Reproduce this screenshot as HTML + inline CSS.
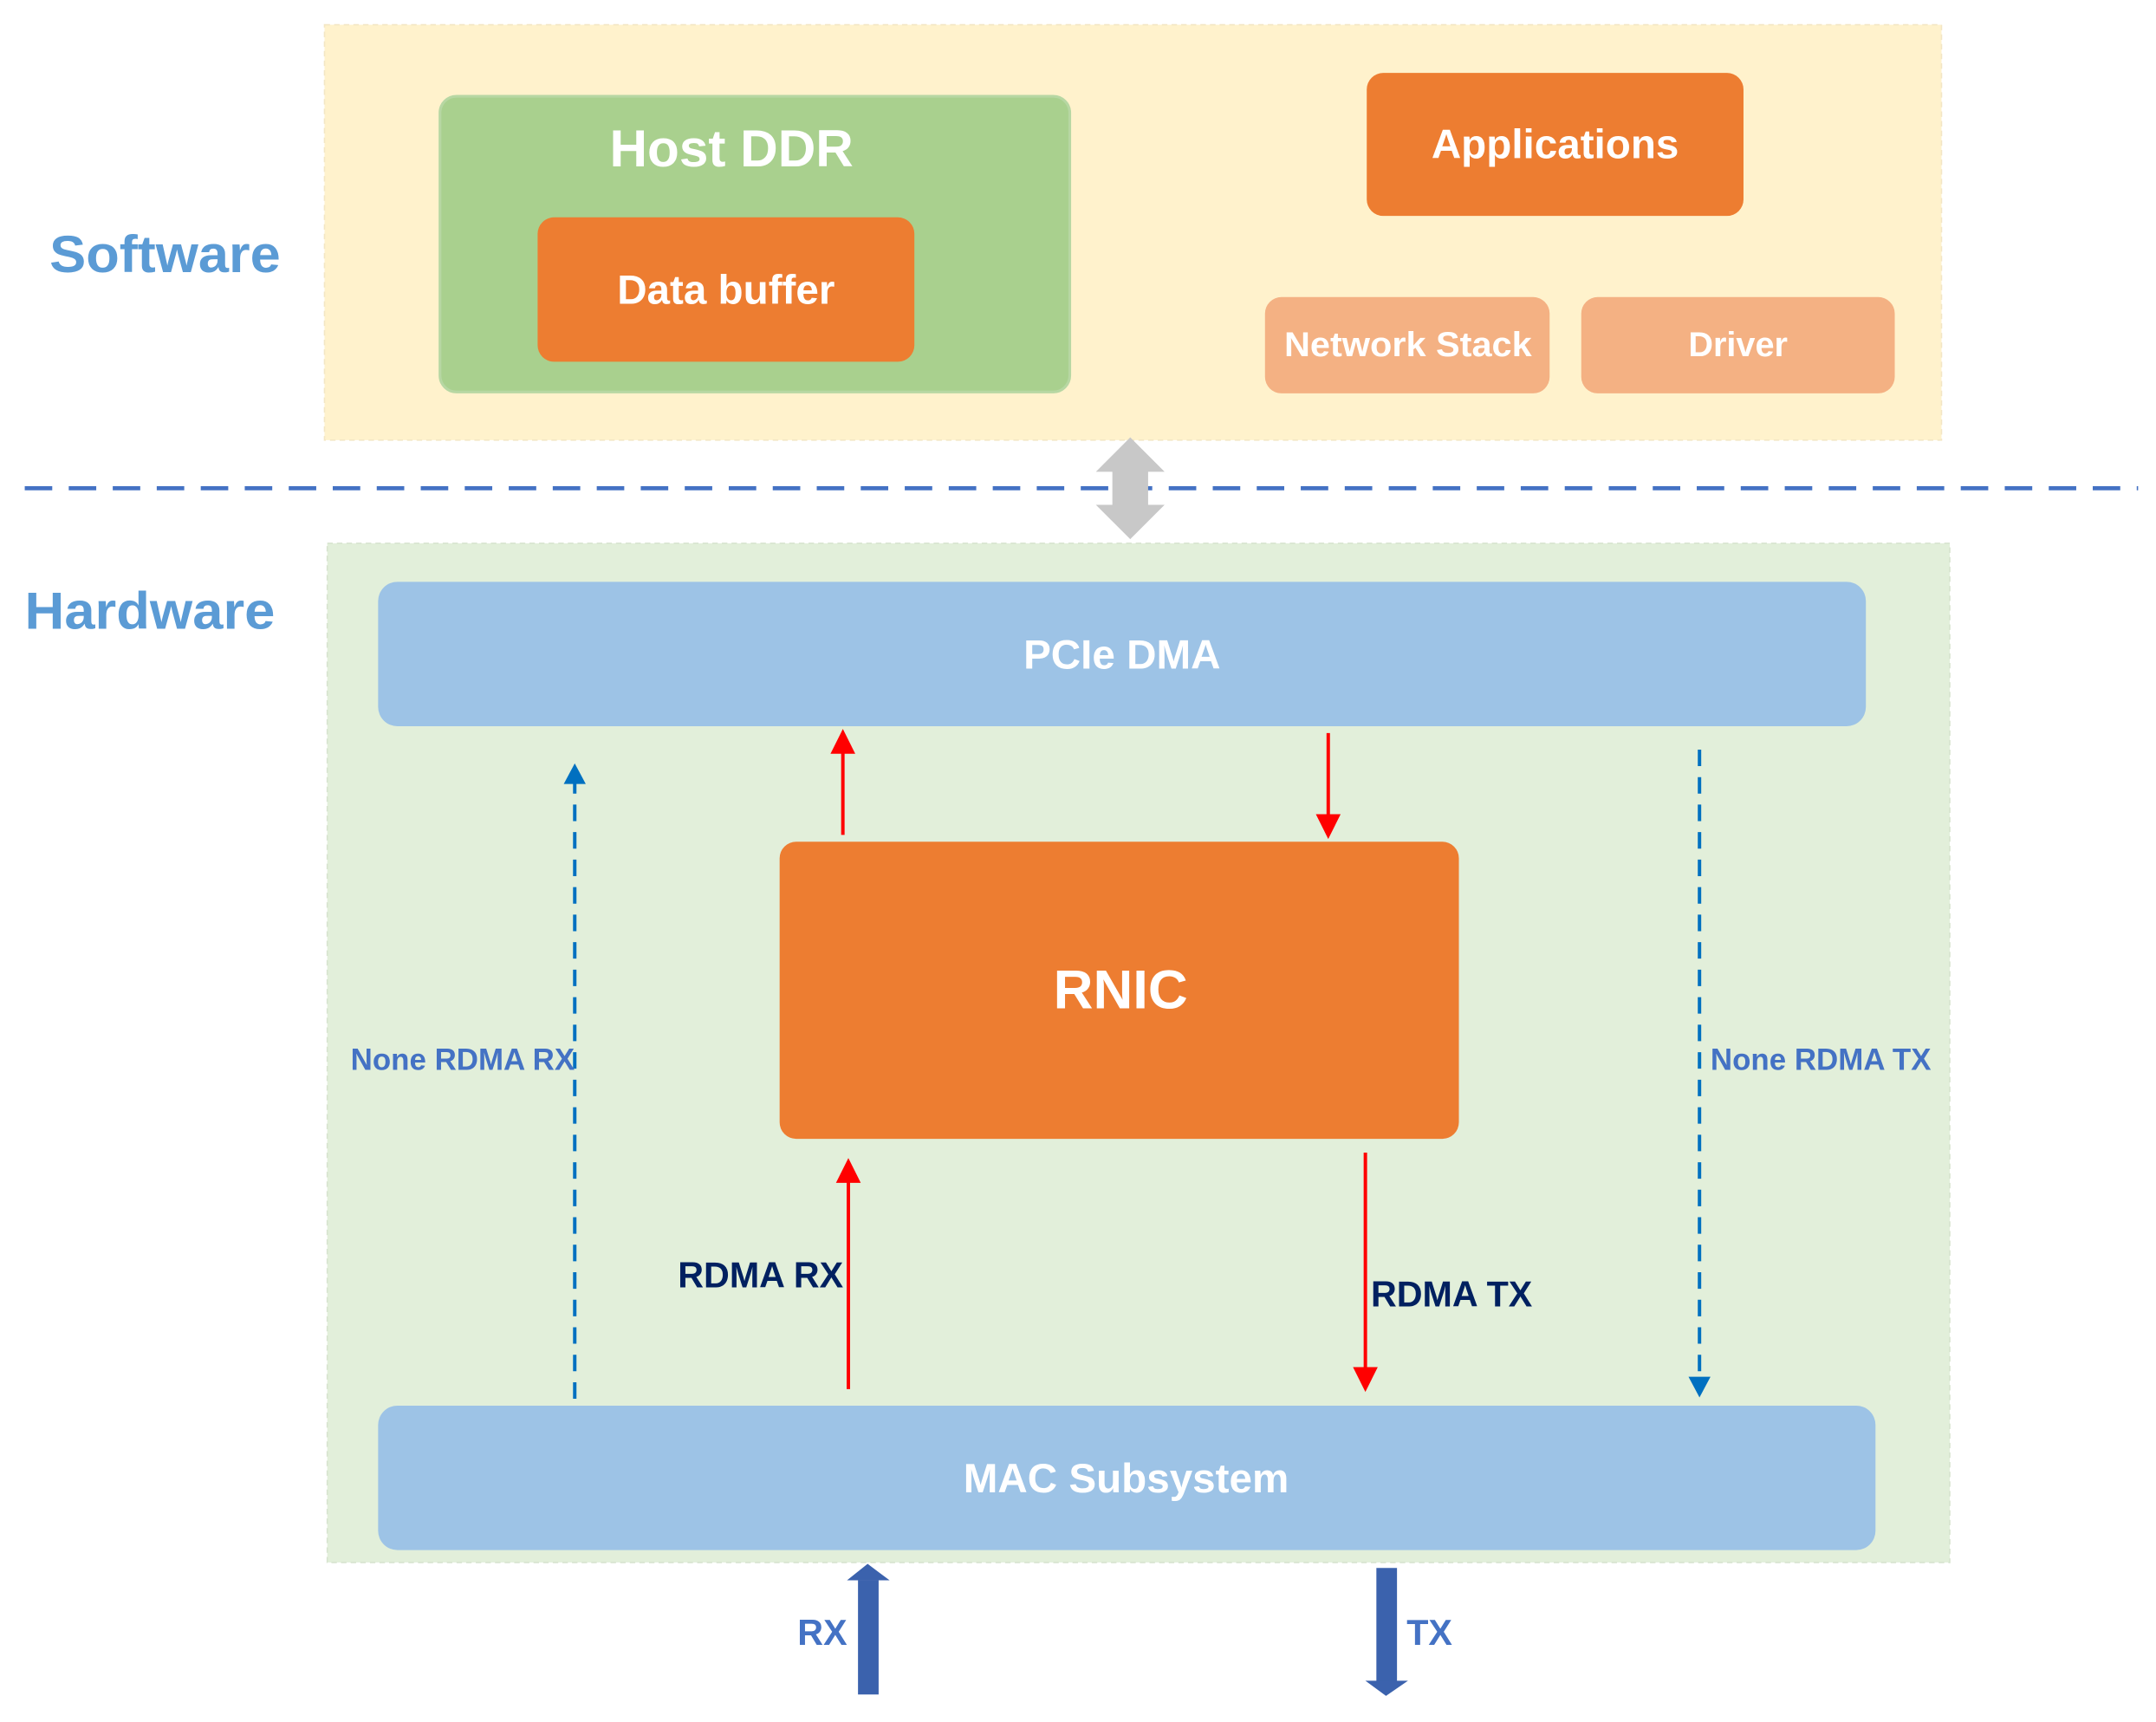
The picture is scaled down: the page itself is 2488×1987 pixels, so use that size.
<!DOCTYPE html>
<html><head><meta charset="utf-8"><style>
html,body{margin:0;padding:0;background:#fff;}
svg{display:block;}
text{font-family:"Liberation Sans","DejaVu Sans",sans-serif;font-weight:bold;}
</style></head><body>
<svg width="2488" height="1987" viewBox="0 0 1568 1252" preserveAspectRatio="none" xmlns="http://www.w3.org/2000/svg">
<rect width="1568" height="1252" fill="#fff"/>
<rect x="236" y="18" width="1176" height="302" fill="#fff2cc" stroke="#f3e6c4" stroke-dasharray="4 3"/>
<rect x="238" y="395" width="1180" height="741" fill="#e2efda" stroke="#d6e3ce" stroke-dasharray="4 3"/>
<line x1="18" y1="355" x2="1555" y2="355" stroke="#4472c4" stroke-width="3" stroke-dasharray="20 12"/>
<polygon points="822,318 847,343 835,343 835,367 847,367 822,392 797,367 809,367 809,343 797,343" fill="#c8c8c8"/>
<text x="36" y="198" font-size="38" fill="#5b9bd5" textLength="168" lengthAdjust="spacingAndGlyphs">Software</text>
<text x="18" y="457" font-size="38" fill="#5b9bd5" textLength="182" lengthAdjust="spacingAndGlyphs">Hardware</text>
<rect x="320" y="70" width="458" height="215" rx="12" fill="#a9d08e" stroke="#b7d7a3" stroke-width="2"/>
<text x="532" y="121" font-size="38" fill="#fff" text-anchor="middle">Host DDR</text>
<rect x="391" y="158" width="274" height="105" rx="12" fill="#ed7d31"/>
<text x="528" y="221" font-size="30" fill="#fff" text-anchor="middle">Data buffer</text>
<rect x="994" y="53" width="274" height="104" rx="12" fill="#ed7d31"/>
<text x="1131" y="115" font-size="30" fill="#fff" text-anchor="middle">Applications</text>
<rect x="920" y="216" width="207" height="70" rx="12" fill="#f4b183"/>
<text x="1024" y="259" font-size="25" fill="#fff" text-anchor="middle" textLength="180" lengthAdjust="spacingAndGlyphs">Network Stack</text>
<rect x="1150" y="216" width="228" height="70" rx="12" fill="#f4b183"/>
<text x="1264" y="259" font-size="25" fill="#fff" text-anchor="middle">Driver</text>
<rect x="275" y="423" width="1082" height="105" rx="14" fill="#9dc3e6"/>
<text x="816" y="486" font-size="30" fill="#fff" text-anchor="middle">PCIe DMA</text>
<rect x="567" y="612" width="494" height="216" rx="12" fill="#ed7d31"/>
<text x="815" y="733" font-size="40" fill="#fff" text-anchor="middle">RNIC</text>
<rect x="275" y="1022" width="1089" height="105" rx="14" fill="#9dc3e6"/>
<text x="819" y="1085" font-size="30" fill="#fff" text-anchor="middle">MAC Subsystem</text>
<g stroke="#ff0000" stroke-width="2.5" fill="#ff0000">
<line x1="613" y1="607" x2="613" y2="545"/><polygon points="604,548 622,548 613,530" stroke="none"/>
<line x1="966" y1="533" x2="966" y2="595"/><polygon points="957,592 975,592 966,610" stroke="none"/>
<line x1="617" y1="1010" x2="617" y2="857"/><polygon points="608,860 626,860 617,842" stroke="none"/>
<line x1="993" y1="838" x2="993" y2="997"/><polygon points="984,994 1002,994 993,1012" stroke="none"/>
</g>
<g stroke="#0070c0" stroke-width="2.5" fill="#0070c0">
<line x1="418" y1="1017" x2="418" y2="568" stroke-dasharray="12 8"/><polygon points="410,570 426,570 418,555" stroke="none"/>
<line x1="1236" y1="545" x2="1236" y2="1003" stroke-dasharray="12 8"/><polygon points="1228,1001 1244,1001 1236,1016" stroke="none"/>
</g>
<text x="255" y="778" font-size="22" fill="#4472c4">None RDMA RX</text>
<text x="1244" y="778" font-size="22" fill="#4472c4">None RDMA TX</text>
<text x="493" y="936" font-size="26" fill="#002060">RDMA RX</text>
<text x="997" y="950" font-size="26" fill="#002060">RDMA TX</text>
<rect x="624" y="1149" width="15" height="83" fill="#3b62ad"/>
<polygon points="616,1149 647,1149 631,1137" fill="#3b62ad"/>
<rect x="1001" y="1140" width="15" height="84" fill="#3b62ad"/>
<polygon points="993,1222 1024,1222 1008,1233" fill="#3b62ad"/>
<text x="580" y="1196" font-size="26" fill="#4472c4">RX</text>
<text x="1023" y="1196" font-size="26" fill="#4472c4">TX</text>
</svg>
</body></html>
